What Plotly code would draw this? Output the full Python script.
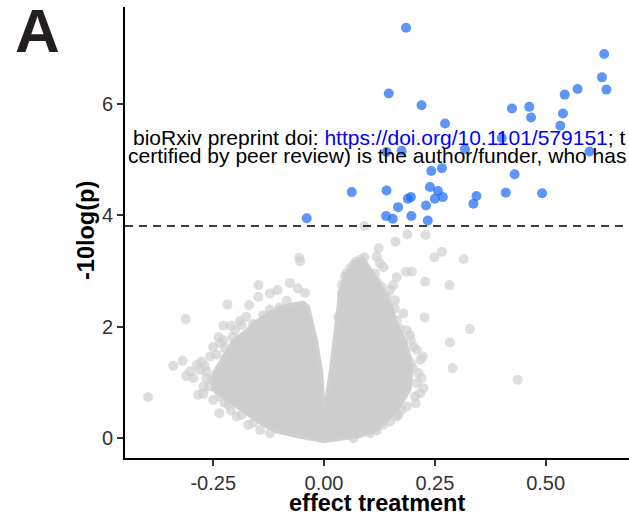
import plotly.graph_objects as go

# ---------------- data ----------------
# significant hits (blue)
sig_effect = [0.185, 0.632, 0.627, 0.637, 0.572, 0.543, 0.146, 0.220, 0.424, 0.463,
              0.467, 0.539, 0.273, 0.533, 0.401, 0.318, 0.175, 0.141, 0.599, 0.242,
              0.266, 0.430, 0.0625, 0.141, 0.239, 0.257, 0.410, 0.492, 0.189, 0.196,
              0.250, 0.268, 0.344, 0.337, 0.167, 0.230, -0.039, 0.140, 0.155, 0.197,
              0.234]
sig_logp = [7.37, 6.90, 6.48, 6.26, 6.27, 6.17, 6.19, 5.98, 5.92, 5.95,
            5.76, 5.83, 5.65, 5.61, 5.39, 5.19, 5.16, 5.14, 5.15, 4.80,
            4.85, 4.74, 4.42, 4.45, 4.51, 4.44, 4.41, 4.40, 4.30, 4.33,
            4.30, 4.33, 4.35, 4.21, 4.15, 4.18, 3.95, 3.99, 3.94, 3.99,
            3.91]

# non-significant points around the edge of the cloud (grey)
ns_effect = [-0.056, -0.054, -0.148, -0.077, -0.105, -0.122, -0.059, -0.043, -0.148, -0.084,
             -0.169, -0.218, -0.176, -0.137, -0.312, -0.227, -0.210, -0.238, -0.206, -0.235,
             -0.224, -0.242, -0.276, -0.319, -0.340, -0.287, -0.269, -0.311, -0.295, -0.265,
             -0.259, -0.284, -0.272, -0.235, -0.224, -0.236, -0.210, -0.186, -0.160, -0.265,
             -0.397, -0.100, -0.190, -0.160,
             -0.099, -0.122, -0.186, -0.201, -0.227, -0.250, -0.257, -0.280, -0.302, -0.253,
             -0.272, -0.250, -0.216, -0.197, -0.171, -0.144, -0.122,
             0.091, 0.188, 0.229, 0.161, 0.123, 0.266, 0.249, 0.315, 0.091, 0.072,
             0.119, 0.126, 0.134, 0.059, 0.047, 0.040, 0.115, 0.119, 0.164, 0.156,
             0.149, 0.185, 0.198, 0.228, 0.283, 0.160, 0.160, 0.179, 0.227, 0.171,
             0.194, 0.196, 0.329, 0.284, 0.209, 0.223, 0.196, 0.200, 0.290, 0.220,
             0.209, 0.224, 0.217, 0.207, 0.175, 0.164, 0.149, 0.119, 0.437,
             0.081, 0.066, 0.051, 0.040, 0.032, 0.104, 0.130, 0.141, 0.164, 0.187,
             0.202, 0.217, 0.213, 0.205, 0.187, 0.168, 0.134, 0.104, 0.066]
ns_logp = [3.24, 3.18, 2.75, 2.79, 2.66, 2.60, 2.69, 2.61, 2.54, 2.47,
           2.39, 2.40, 2.18, 2.21, 2.14, 2.02, 2.02, 1.82, 1.82, 1.71,
           1.62, 1.50, 1.38, 1.39, 1.30, 1.32, 1.30, 1.12, 1.08, 1.08,
           0.93, 0.78, 0.80, 0.75, 0.64, 0.45, 0.50, 0.42, 0.28, 1.20,
           0.74, 2.35, 2.10, 2.05,
           2.31, 2.31, 2.03, 1.94, 1.76, 1.64, 1.47, 1.23, 1.20, 1.05,
           0.93, 0.69, 0.60, 0.39, 0.24, 0.15, 0.09,
           3.81, 3.66, 3.65, 3.53, 3.41, 3.35, 3.25, 3.22, 3.25, 3.17,
           3.26, 3.14, 3.07, 3.05, 2.90, 2.75, 2.96, 2.81, 2.89, 2.75,
           2.66, 2.99, 2.99, 2.81, 2.75, 2.48, 2.33, 2.24, 2.17, 1.97,
           1.85, 1.76, 1.96, 1.72, 1.59, 1.47, 1.35, 1.26, 1.26, 1.08,
           0.99, 0.90, 0.81, 0.63, 0.51, 0.39, 0.30, 0.14, 1.05,
           3.20, 3.11, 2.96, 2.60, 2.18, 2.84, 2.72, 2.54, 2.12, 1.94,
           1.64, 1.41, 1.17, 0.75, 0.57, 0.42, 0.24, 0.09, 0.00]

# outline of the dense (fully overlapping) part of the grey cloud, V-notch included
cloud_x = [0.0, -0.005, -0.017, -0.035, -0.047, -0.084, -0.122, -0.160, -0.175, -0.205,
           -0.227, -0.250, -0.252, -0.197, -0.144, -0.110, -0.062, 0.0, 0.081, 0.120,
           0.141, 0.171, 0.194, 0.198, 0.194, 0.183, 0.164, 0.153, 0.134, 0.111,
           0.089, 0.066, 0.050, 0.036, 0.032, 0.0226, 0.0135, 0.002, 0.0]
cloud_y = [0.50, 1.17, 1.76, 2.36, 2.45, 2.39, 2.27, 2.06, 1.94, 1.76,
           1.47, 1.17, 0.87, 0.57, 0.27, 0.12, 0.03, -0.06, 0.03, 0.14,
           0.30, 0.57, 0.87, 1.17, 1.47, 1.76, 2.06, 2.36, 2.66, 2.96,
           3.23, 3.14, 2.95, 2.66, 2.36, 1.76, 1.17, 0.57, 0.50]

threshold = 3.81
x_ticks = [-0.25, 0.0, 0.25, 0.50]
x_tick_labels = ["-0.25", "0.00", "0.25", "0.50"]
y_ticks = [0, 2, 4, 6]
y_tick_labels = ["0", "2", "4", "6"]

# ---------------- figure ----------------
FONT = "Liberation Sans, Arial, Helvetica, sans-serif"
W, H = 629, 528
ML, MR, MT, MB = 125, 0, 7, 70
PW, PH = W - ML - MR, H - MT - MB


def px_x(p):
    return (p - ML) / PW


def px_y(p):
    return (H - MB - p) / PH


fig = go.Figure()

fig.add_trace(go.Scatter(x=cloud_x, y=cloud_y, mode="lines", fill="toself",
                         fillcolor="rgb(205,205,205)",
                         line=dict(color="rgb(208,208,208)", width=3),
                         hoverinfo="skip", showlegend=False))

fig.add_trace(go.Scatter(x=ns_effect, y=ns_logp, mode="markers",
                         marker=dict(size=10, color="rgba(204,204,204,0.65)", line=dict(width=0)),
                         showlegend=False))
fig.add_trace(go.Scatter(x=sig_effect, y=sig_logp, mode="markers",
                         marker=dict(size=10, color="rgba(30,110,245,0.72)", line=dict(width=0)),
                         showlegend=False))

fig.add_shape(type="line", xref="paper", x0=0, x1=1, yref="y", y0=threshold, y1=threshold,
              line=dict(color="black", width=1.6, dash="8px,6px"))

axis_common = dict(showline=True, linecolor="black", linewidth=1.8, showgrid=False,
                   zeroline=False, ticks="outside", ticklen=6, tickwidth=1.6,
                   tickcolor="#333333", tickfont=dict(family=FONT, size=20, color="#333333"),
                   mirror=False)

fig.update_xaxes(range=[-0.449, 0.688], tickvals=x_ticks, ticktext=x_tick_labels, **axis_common)
fig.update_yaxes(range=[-0.354, 7.743], tickvals=y_ticks, ticktext=y_tick_labels, **axis_common)

ann = [
    dict(text="<b>effect treatment</b>", x=px_x(377), y=px_y(503), xanchor="center", yanchor="middle",
         font=dict(family=FONT, size=23.5, color="black")),
    dict(text="<b>-10log(p)</b>", x=px_x(86), y=px_y(231), xanchor="center", yanchor="middle",
         textangle=-90, font=dict(family=FONT, size=23.5, color="black")),
    dict(text="<b>A</b>", x=px_x(37.5), y=px_y(30), xanchor="center", yanchor="middle",
         font=dict(family=FONT, size=62, color="#231f20")),
    dict(text='bioRxiv preprint doi: <span style="color:#0000ff">https://doi.org/10.1101/579151</span>; t',
         x=px_x(131), y=px_y(138), xanchor="left", yanchor="middle",
         font=dict(family=FONT, size=21, color="black")),
    dict(text="certified by peer review) is the author/funder, who has",
         x=px_x(126), y=px_y(156), xanchor="left", yanchor="middle",
         font=dict(family=FONT, size=21, color="black")),
]
for a in ann:
    a.update(xref="paper", yref="paper", showarrow=False)

fig.update_layout(width=W, height=H, margin=dict(l=ML, r=MR, t=MT, b=MB),
                  plot_bgcolor="white", paper_bgcolor="white",
                  annotations=ann, showlegend=False)

fig.write_html("out.html")
